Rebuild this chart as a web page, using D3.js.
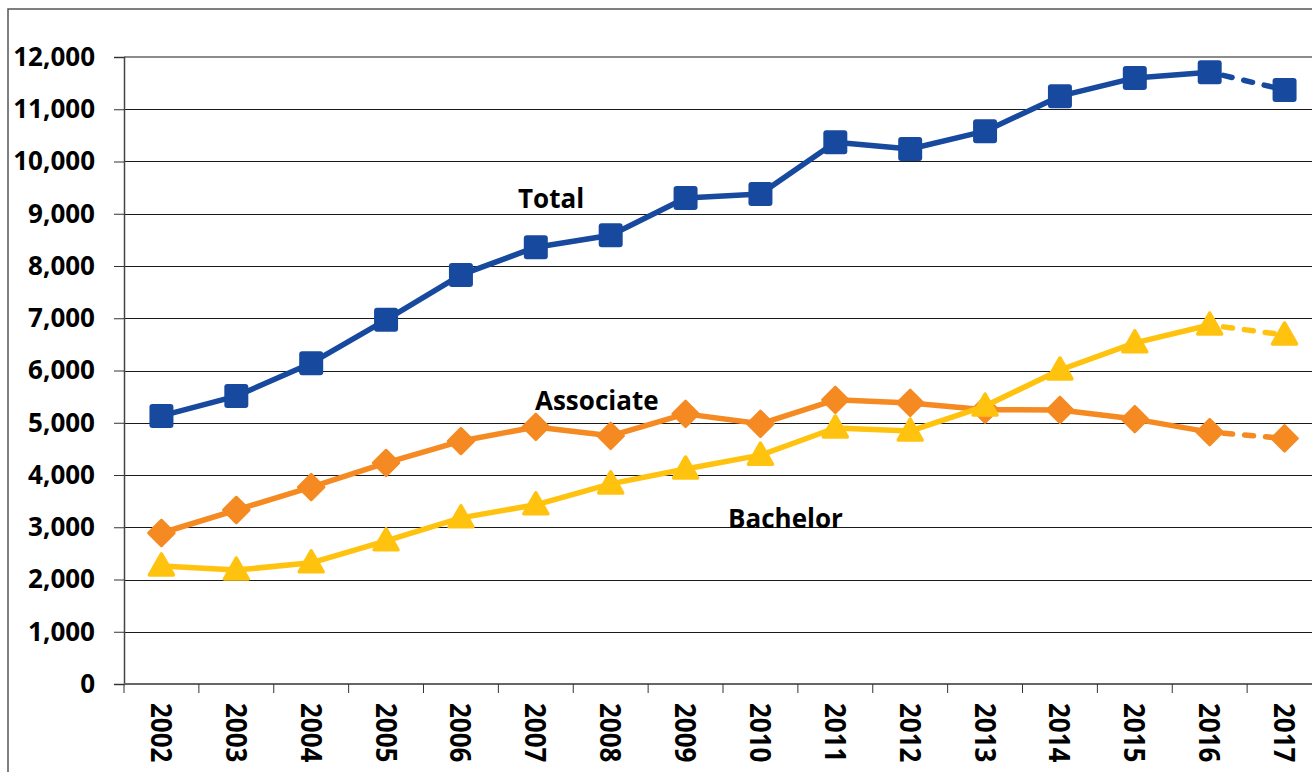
<!DOCTYPE html>
<html>
<head>
	<meta http-equiv="Content-Type" content="text/html;charset=utf-8">
	<title>Degrees</title>
	<script src="https://d3js.org/d3.v7.min.js"></script>
	<style type="text/css">
		body { margin: 0; background: #fff; }
		text { font-family: "Open Sans", "Noto Sans", sans-serif; font-weight: bold; fill: #000; }
		.grid line { stroke: #1a1a1a; stroke-width: 1px; }
	</style>
</head>
<body>
	<svg width="1312" height="772"></svg>

	<script type="text/javascript">
		// values
		var years = ["2002","2003","2004","2005","2006","2007","2008","2009",
			"2010","2011","2012","2013","2014","2015","2016","2017"];
		var total = [5130, 5510, 6140, 6970, 7830, 8360, 8590, 9300,
			9380, 10370, 10240, 10580, 11250, 11600, 11710, 11370];
		var associate = [2890, 3330, 3770, 4230, 4650, 4920, 4750, 5170,
			4980, 5440, 5380, 5250, 5245, 5070, 4820, 4700];
		var bachelor = [2260, 2180, 2320, 2740, 3180, 3430, 3830, 4115,
			4380, 4900, 4840, 5320, 6010, 6530, 6870, 6680];
		var yTicks = [0, 1000, 2000, 3000, 4000, 5000, 6000, 7000, 8000, 9000, 10000, 11000, 12000];

		var svg = d3.select("svg");
		var plotL = 124, plotR = 1322, plotT = 57, plotB = 684;

		var x = d3.scaleBand().domain(years).range([plotL, plotR]);
		var y = d3.scaleLinear().domain([0, 12000]).range([plotB, plotT]);
		var cx = function (d) { return x(d) + x.bandwidth() / 2; };

		// outer frame
		svg.append("rect").attr("x", 8).attr("y", 9).attr("width", 1320).attr("height", 790)
			.attr("fill", "none").attr("stroke", "#555").attr("stroke-width", 1.5);

		// gridlines
		svg.append("g").attr("class", "grid")
			.selectAll("line").data(yTicks.filter(function (t) { return t > 0 && t < 12000; }))
			.enter().append("line")
			.attr("x1", plotL).attr("x2", plotR)
			.attr("y1", function (t) { return Math.round(y(t)) + 0.5; })
			.attr("y2", function (t) { return Math.round(y(t)) + 0.5; });
		svg.append("line").attr("x1", plotL).attr("x2", plotR)
			.attr("y1", y(12000)).attr("y2", y(12000))
			.attr("stroke", "#8c8c8c").attr("stroke-width", 2);

		// y axis
		var yAxis = svg.append("g").attr("transform", "translate(" + plotL + ",0)")
			.call(d3.axisLeft(y).tickValues(yTicks).tickSize(10).tickPadding(19)
				.tickFormat(d3.format(",")));
		yAxis.select(".domain").attr("stroke", "#444").attr("stroke-width", 1.5);
		yAxis.selectAll(".tick line").attr("stroke", "#333");
		yAxis.selectAll("text").attr("font-size", 26).attr("font-family", null);

		// x axis, ticks between categories
		var xAxis = svg.append("g").attr("transform", "translate(0," + plotB + ")");
		xAxis.append("line").attr("x1", plotL).attr("x2", plotR).attr("y1", 0).attr("y2", 0)
			.attr("stroke", "#666").attr("stroke-width", 2);
		xAxis.selectAll(".xt").data(years).enter().append("line")
			.attr("x1", function (d) { return x(d); }).attr("x2", function (d) { return x(d); })
			.attr("y1", 0).attr("y2", 9).attr("stroke", "#333").attr("stroke-width", 1);
		xAxis.selectAll(".xl").data(years).enter().append("text")
			.attr("transform", function (d) { return "translate(" + cx(d) + ",19) rotate(90) scale(1,1.12)"; })
			.attr("dy", "0.36em")
			.attr("font-size", 26)
			.text(function (d) { return d; });

		// series
		var series = [
			{ name: "Total", values: total, color: "#17499e", shape: "square" },
			{ name: "Associate", values: associate, color: "#f58a22", shape: "diamond" },
			{ name: "Bachelor", values: bachelor, color: "#ffc30f", shape: "triangle" }
		];
		var line = d3.line().x(function (d) { return cx(d.year); }).y(function (d) { return y(d.v); });

		series.forEach(function (s) {
			var pts = years.map(function (yr, i) { return { year: yr, v: s.values[i] }; });
			svg.append("path").datum(pts.slice(0, 15)).attr("d", line)
				.attr("fill", "none").attr("stroke", s.color).attr("stroke-width", 5.5)
				.attr("stroke-linejoin", "round");
			svg.append("path").datum(pts.slice(14)).attr("d", line)
				.attr("fill", "none").attr("stroke", s.color).attr("stroke-width", 5.5)
				.attr("stroke-dasharray", "9,12").attr("stroke-dashoffset", -14)
				.attr("stroke-linecap", "round");

			var g = svg.append("g").selectAll("g").data(pts).enter().append("g")
				.attr("transform", function (d) { return "translate(" + cx(d.year) + "," + y(d.v) + ")"; });
			if (s.shape === "square") {
				g.append("rect").attr("x", -12).attr("y", -12).attr("width", 24).attr("height", 24)
					.attr("rx", 3).attr("fill", s.color);
			} else if (s.shape === "diamond") {
				g.append("path").attr("d", "M0,-13L13,0L0,13L-13,0Z").attr("fill", s.color)
					.attr("stroke", s.color).attr("stroke-width", 2.5).attr("stroke-linejoin", "round");
			} else {
				g.append("path").attr("d", "M0,-12L12,9L-12,9Z").attr("fill", s.color)
					.attr("stroke", s.color).attr("stroke-width", 3.5).attr("stroke-linejoin", "round");
			}
		});

		// series labels
		var labels = [
			{ text: "Total", x: 518, y: 208 },
			{ text: "Associate", x: 535, y: 410 },
			{ text: "Bachelor", x: 728, y: 528 }
		];
		svg.selectAll(".lab").data(labels).enter().append("text")
			.attr("x", function (d) { return d.x; }).attr("y", function (d) { return d.y; })
			.attr("font-size", 26)
			.text(function (d) { return d.text; });
	</script>
</body>
</html>
